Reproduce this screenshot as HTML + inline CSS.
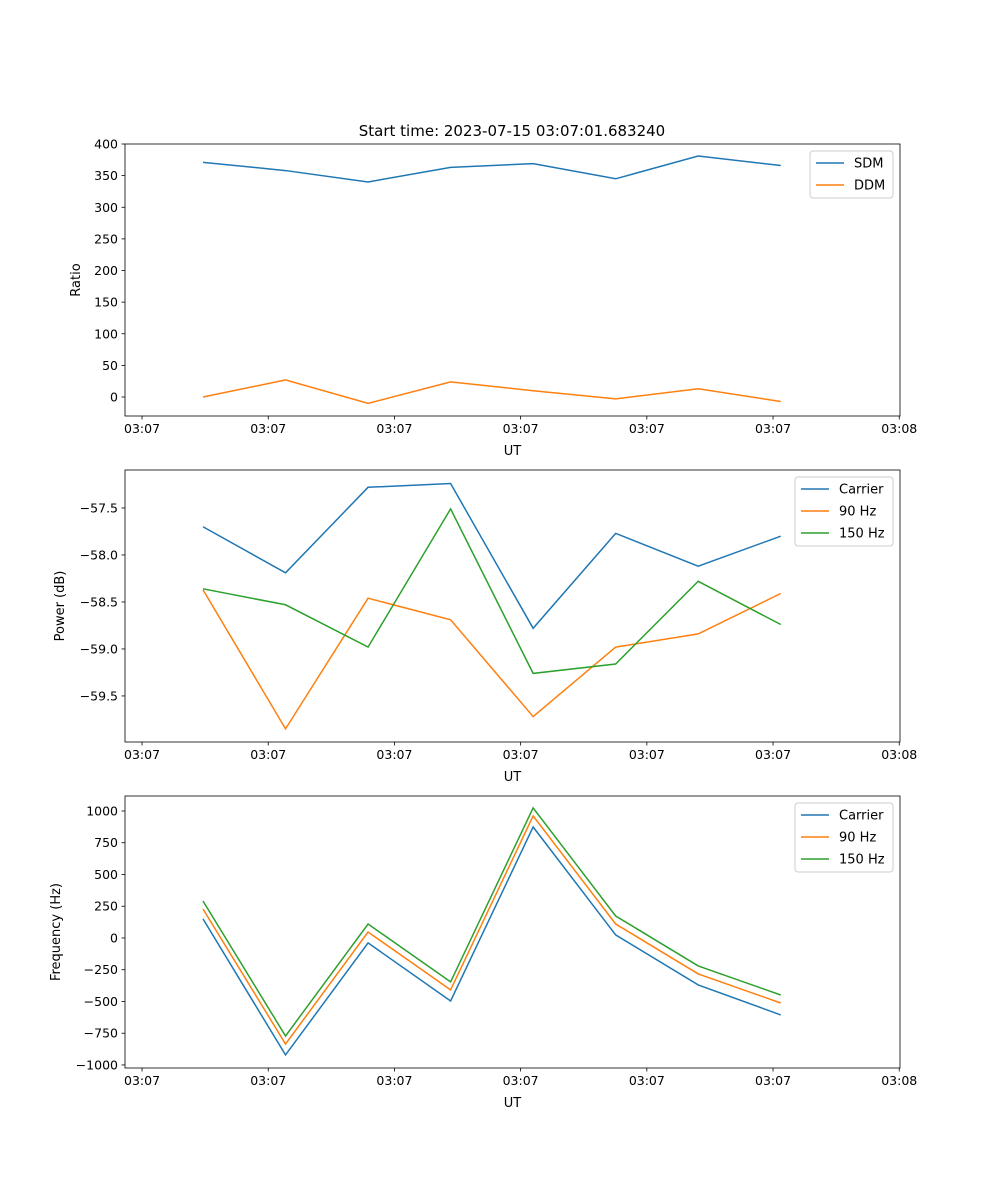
<!DOCTYPE html>
<html><head><meta charset="utf-8"><style>
body{margin:0;background:#fff;}
svg{display:block;font-family:"DejaVu Sans","Liberation Sans",sans-serif;}
</style></head><body>
<svg id="fig" width="1000" height="1200"></svg>
<script>
const times=[0.483,1.137,1.791,2.445,3.099,3.753,4.407,5.061];
const xTickVals=[0,1,2,3,4,5,6];
const xTickLabels=["03:07","03:07","03:07","03:07","03:07","03:07","03:08"];
const sdm=[371,358,340,363,369,345,381,366];
const ddm=[0,27,-10,24,10,-3,13,-7];
const pwrCarrier=[-57.70,-58.19,-57.28,-57.24,-58.78,-57.77,-58.12,-57.80];
const pwr90=[-58.37,-59.85,-58.46,-58.69,-59.72,-58.98,-58.84,-58.41];
const pwr150=[-58.36,-58.53,-58.98,-57.51,-59.26,-59.16,-58.28,-58.74];
const frqCarrier=[150,-921,-39,-496,874,24,-370,-606];
const frq90=[228,-835,47,-409,961,110,-283,-512];
const frq150=[291,-772,110,-346,1024,173,-220,-449];
const ratioTicks=[0,50,100,150,200,250,300,350,400];
const powerTicks=[-59.5,-59.0,-58.5,-58.0,-57.5];
const powerTickLabels=["−59.5","−59.0","−58.5","−58.0","−57.5"];
const freqTicks=[-1000,-750,-500,-250,0,250,500,750,1000];
const freqTickLabels=["−1000","−750","−500","−250","0","250","500","750","1000"];

const NS="http://www.w3.org/2000/svg";
const svg=document.getElementById('fig');
function el(tag,attrs,parent){const e=document.createElementNS(NS,tag);for(const k in attrs)e.setAttribute(k,attrs[k]);(parent||svg).appendChild(e);return e;}
const L=125,R=900,xmin=-0.135,xmax=6.006;
const sx=v=>L+(v-xmin)/(xmax-xmin)*(R-L);

function panel(name,top,bot,ymin,ymax,yt,ytl,ylabel,series,legend){
  const g=el('g',{});
  
  
  const sy=v=>bot-(v-ymin)/(ymax-ymin)*(bot-top);
  series.forEach(s=>{
    const p=el('polyline',{points:times.map((t,i)=>sx(t)+','+sy(s.d[i])).join(' '),fill:'none',stroke:s.c,'stroke-width':1.5},g);
    
    
  });
  el('rect',{x:L,y:top,width:R-L,height:bot-top,fill:'none',stroke:'#000','stroke-width':0.8},g);
  xTickVals.forEach((v,i)=>{const x=sx(v);
    el('line',{x1:x,x2:x,y1:bot,y2:bot+3.5,stroke:'#000','stroke-width':0.8},g);
    const t=el('text',{x:x,y:bot+17,'font-size':12.5,'text-anchor':'middle'},g);t.textContent=xTickLabels[i];
    });
  yt.forEach((v,i)=>{const y=sy(v);
    el('line',{x1:L,x2:L-3.5,y1:y,y2:y,stroke:'#000','stroke-width':0.8},g);
    const t=el('text',{x:L-7,y:y+4.5,'font-size':12.5,'text-anchor':'end'},g);t.textContent=ytl?ytl[i]:String(v);
    });
  const xl=el('text',{x:(L+R)/2,y:bot+39,'font-size':13,'text-anchor':'middle'},g);xl.textContent='UT';
  
  const ylx=ylabel.x;
  const yl=el('text',{x:ylx,y:(top+bot)/2,'font-size':13,'text-anchor':'middle',transform:`rotate(-90 ${ylx} ${(top+bot)/2})`},g);yl.textContent=ylabel.t;
  
  const lg=el('g',{},g);
  
  el('rect',{x:legend.x,y:top+7,width:legend.w,height:series.length*22+3,rx:3,fill:'#fff','fill-opacity':0.8,stroke:'#ccc'},lg);
  series.forEach((s,i)=>{const y=top+19+i*22;
    el('line',{x1:legend.x+6,x2:legend.x+34,y1:y,y2:y,stroke:s.c,'stroke-width':1.5},lg);
    const t=el('text',{x:legend.x+44,y:y+4.5,'font-size':13},lg);t.textContent=s.n;
    });
}
const B='#1f77b4',O='#ff7f0e',G='#2ca02c';
const title=el('text',{x:512,y:136,'font-size':15,'text-anchor':'middle'});title.textContent='Start time: 2023-07-15 03:07:01.683240';

panel('ratio-panel',144,416,-30,400,ratioTicks,null,{x:80,t:'Ratio'},[{n:'SDM',d:sdm,c:B},{n:'DDM',d:ddm,c:O}],{x:810,w:83});
panel('power-panel',470,742,-59.99,-57.096,powerTicks,powerTickLabels,{x:64,t:'Power (dB)'},[{n:'Carrier',d:pwrCarrier,c:B},{n:'90 Hz',d:pwr90,c:O},{n:'150 Hz',d:pwr150,c:G}],{x:795,w:98});
panel('frequency-panel',796,1068,-1024,1118,freqTicks,freqTickLabels,{x:60,t:'Frequency (Hz)'},[{n:'Carrier',d:frqCarrier,c:B},{n:'90 Hz',d:frq90,c:O},{n:'150 Hz',d:frq150,c:G}],{x:795,w:98});
</script>
</body></html>
